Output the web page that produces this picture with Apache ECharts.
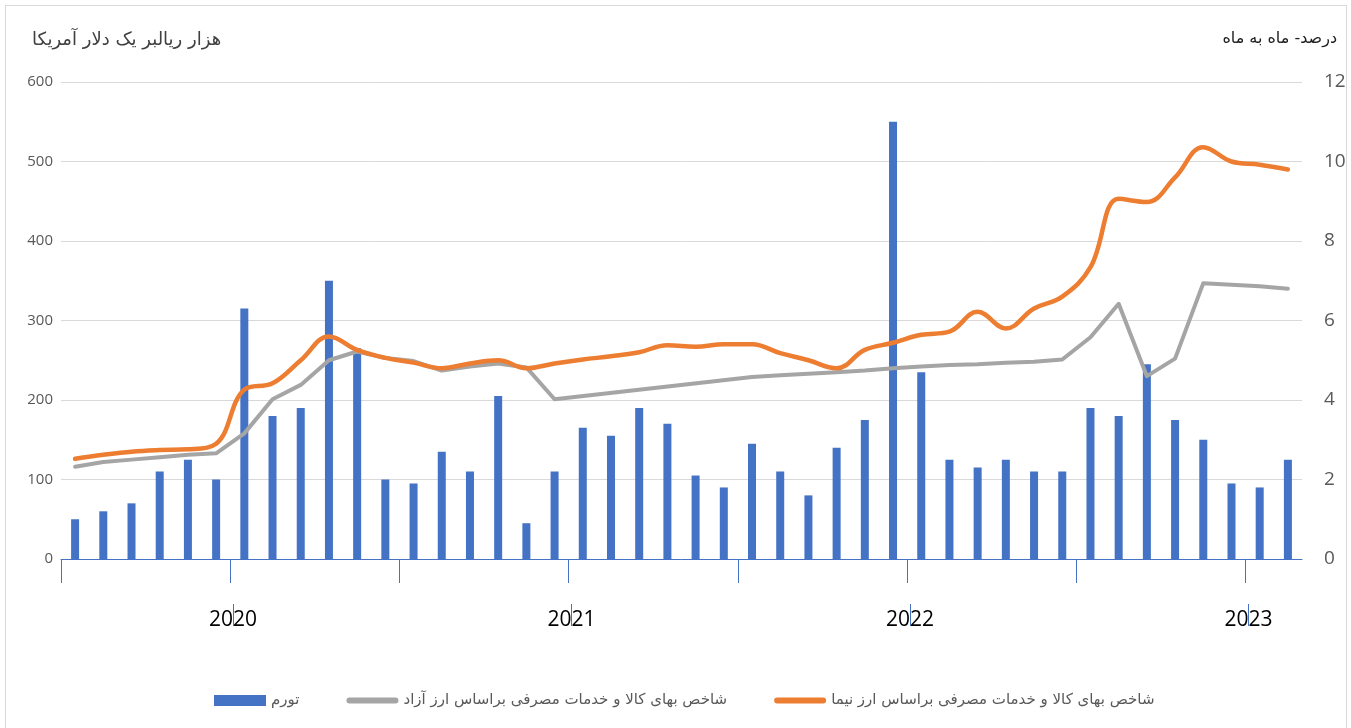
<!DOCTYPE html>
<html>
<head>
<meta charset="utf-8">
<script src="https://cdn.jsdelivr.net/npm/echarts@6/dist/echarts.min.js"></script>
<style>
  html, body { margin: 0; padding: 0; background: #fff; }
  #chart { position: absolute; left: 0; top: 0; width: 1351px; height: 728px; }
  #frame { position: absolute; left: 5px; top: 5px; width: 1340px; height: 722px; border: 1px solid #d9d9d9; pointer-events: none; }
</style>
</head>
<body>
<div id="chart"></div>
<div id="frame"></div>
<script>
// ماه‌ها (۴۴ ماه)
const months = [
  '2020-01', '2020-02', '2020-03', '2020-04', '2020-05', '2020-06', '2020-07', '2020-08', '2020-09', '2020-10', '2020-11', '2020-12',
  '2021-01', '2021-02', '2021-03', '2021-04', '2021-05', '2021-06', '2021-07', '2021-08', '2021-09', '2021-10', '2021-11', '2021-12',
  '2022-01', '2022-02', '2022-03', '2022-04', '2022-05', '2022-06', '2022-07', '2022-08', '2022-09', '2022-10', '2022-11', '2022-12',
  '2023-01', '2023-02', '2023-03', '2023-04', '2023-05', '2023-06', '2023-07', '2023-08'
];
// خط‌های شش‌ماهه و برچسب سال‌ها (بر حسب شماره ماه)
const halfYearTicks = [-0.5, 5.5, 11.5, 17.5, 23.5, 29.5, 35.5, 41.5];
const yearTicks = [5.6, 17.6, 29.6, 41.6];
const years = ['2020', '2021', '2022', '2023'];

// تورم ماه به ماه (درصد)
const inflation = [
  1.0, 1.2, 1.4, 2.2, 2.5, 2.0, 6.3, 3.6, 3.8, 7.0, 5.3, 2.0,
  1.9, 2.7, 2.2, 4.1, 0.9, 2.2, 3.3, 3.1, 3.8, 3.4, 2.1, 1.8,
  2.9, 2.2, 1.6, 2.8, 3.5, 11.0, 4.7, 2.5, 2.3, 2.5, 2.2, 2.2,
  3.8, 3.6, 4.9, 3.5, 3.0, 1.9, 1.8, 2.5
];
// شاخص براساس ارز آزاد
const freeRate = [
  116, 122, 125, 128, 131, 133, 158, 201, 219, 250, 261, 253,
  249, 237, 242, 246, 241, 201, null, null, null, null, null, null,
  229, 231, 233, 235, 237, 240, 242, 244, 245, 247, 248, 251,
  279, 321, 230, 252, 347, 345, 343, 340
];
// شاخص براساس ارز نیما
const nimaRate = [
  126, 131, 135, 137, 138, 145, 213, 221, 250, 280, 263, 253,
  247, 240, 246, 250, 240, 246, 251, 255, 260, 269, 267, 270,
  270, 259, 250, 240, 263, 272, 282, 286, 311, 290, 315, 330,
  367, 453, 449, 480, 518, 500, 496, 490
];

const FONT = "'DejaVu Sans', 'Noto Sans', sans-serif";
const BLUE = '#4472C4';
// آیکون خط گرد برای راهنما
const lineIcon = 'path://M0,0 L0.01,0 M3,2.5 L49,2.5 A3,3 0 0 1 49,8.5 L3,8.5 A3,3 0 0 1 3,2.5 Z M0,11 L0.01,11';

var myChart = echarts.init(document.getElementById('chart'));
var option = {
  backgroundColor: '#fff',
  textStyle: { fontFamily: FONT },
  title: [
    {
      text: 'هزار ریالبر یک دلار آمریکا',
      left: 27, top: 26,
      textStyle: { fontSize: 18, fontWeight: 'normal', color: '#404040', fontFamily: FONT }
    },
    {
      text: 'درصد- ماه به ماه',
      right: 9, top: 26,
      textStyle: { fontSize: 16, fontWeight: 'normal', color: '#202020', fontFamily: FONT }
    }
  ],
  legend: {
    left: 209,
    top: 688,
    itemWidth: 52,
    itemHeight: 11,
    itemGap: 47,
    textStyle: { fontSize: 15, color: '#595959', fontFamily: FONT },
    data: [
      { name: 'تورم', icon: 'rect' },
      { name: 'شاخص بهای کالا و خدمات مصرفی براساس ارز آزاد', icon: lineIcon },
      { name: 'شاخص بهای کالا و خدمات مصرفی براساس ارز نیما', icon: lineIcon }
    ]
  },
  grid: { left: 61, right: 49, top: 82, bottom: 169, containLabel: false },
  xAxis: [
    {
      // محور داده‌ها
      type: 'category',
      data: months,
      axisLine: { show: false },
      axisTick: { show: false },
      axisLabel: { show: false }
    },
    {
      // خط محور و تیک‌های شش‌ماهه
      type: 'value',
      min: -0.5, max: 43.5,
      position: 'bottom',
      axisLine: { show: true, lineStyle: { color: BLUE, width: 1 } },
      axisTick: { show: true, customValues: halfYearTicks, length: 24, lineStyle: { color: BLUE } },
      axisLabel: { show: false },
      splitLine: { show: false }
    },
    {
      // برچسب سال‌ها
      type: 'value',
      min: -0.5, max: 43.5,
      position: 'bottom',
      offset: 45,
      axisLine: { show: false },
      axisTick: { show: true, customValues: yearTicks, length: 22, lineStyle: { color: BLUE } },
      axisLabel: {
        customValues: yearTicks,
        formatter: function (v) { return years[yearTicks.indexOf(v)] || ''; },
        margin: 6,
        fontSize: 21,
        color: '#000',
        fontFamily: "'Open Sans', sans-serif"
      },
      splitLine: { show: false }
    }
  ],
  yAxis: [
    {
      type: 'value',
      min: 0, max: 600, interval: 100,
      axisLine: { show: false },
      axisTick: { show: false },
      axisLabel: { fontSize: 15, color: '#595959', margin: 8, fontFamily: "'Open Sans', sans-serif" },
      splitLine: { lineStyle: { color: '#d9d9d9', width: 1 } }
    },
    {
      type: 'value',
      min: 0, max: 12, interval: 2,
      axisLine: { show: false },
      axisTick: { show: false },
      axisLabel: { fontSize: 19, color: '#595959', margin: 22, fontFamily: "'Open Sans', sans-serif" },
      splitLine: { show: false }
    }
  ],
  series: [
    {
      name: 'تورم',
      type: 'bar',
      xAxisIndex: 0,
      yAxisIndex: 1,
      barWidth: 8,
      itemStyle: { color: BLUE },
      data: inflation
    },
    {
      name: 'شاخص بهای کالا و خدمات مصرفی براساس ارز آزاد',
      type: 'line',
      xAxisIndex: 0,
      yAxisIndex: 0,
      symbol: 'none',
      connectNulls: true,
      lineStyle: { color: '#A5A5A5', width: 4, cap: 'round', join: 'round' },
      itemStyle: { color: '#A5A5A5' },
      data: freeRate
    },
    {
      name: 'شاخص بهای کالا و خدمات مصرفی براساس ارز نیما',
      type: 'line',
      xAxisIndex: 0,
      yAxisIndex: 0,
      symbol: 'none',
      smooth: 0.4,
      lineStyle: { color: '#ED7D31', width: 4.5, cap: 'round', join: 'round' },
      itemStyle: { color: '#ED7D31' },
      data: nimaRate
    }
  ]
};
option && myChart.setOption(option);
</script>
</body>
</html>
